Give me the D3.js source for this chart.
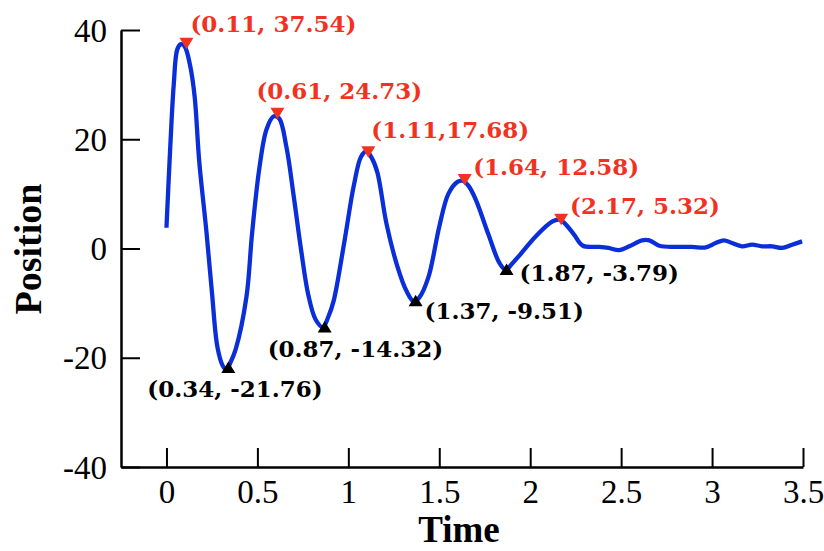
<!DOCTYPE html>
<html>
<head>
<meta charset="utf-8">
<script src="https://cdn.jsdelivr.net/npm/d3@7"></script>
<style>
  html, body { margin: 0; padding: 0; background: #fff; }
</style>
</head>
<body>
<div id="chart"></div>
<script>
const timeValues = [0.00, 0.02, 0.04, 0.06, 0.08, 0.10, 0.13, 0.155, 0.18, 0.22, 0.25, 0.28, 0.31, 0.33, 0.35,
  0.38, 0.44, 0.47, 0.51, 0.55, 0.59, 0.62, 0.66, 0.70, 0.74, 0.78, 0.82, 0.86, 0.89, 0.92, 0.98, 1.03, 1.07,
  1.10, 1.13, 1.16, 1.21, 1.27, 1.32, 1.36, 1.39, 1.44, 1.50, 1.55, 1.60, 1.63, 1.66, 1.70, 1.77, 1.83, 1.865,
  1.90, 1.94, 2.03, 2.12, 2.16, 2.19, 2.24, 2.29, 2.38, 2.43, 2.49, 2.545, 2.615, 2.655, 2.71, 2.80, 2.89,
  2.965, 3.02, 3.065, 3.11, 3.165, 3.22, 3.275, 3.33, 3.385, 3.44, 3.495];
const positionValues = [3.8, 18, 30, 36.5, 37.4, 37.0, 33.5, 27.8, 16, 3, -8, -18, -21.5, -22.2, -21,
  -18.5, -8.8, 2.5, 14.5, 21.8, 24.2, 23.8, 18.5, 9.5, -0.2, -8.5, -13, -14.4, -12.5, -9.5, 1.6, 11.5, 16.8,
  17.8, 16.5, 13.9, 4.5, -3.3, -7.8, -9.7, -9.0, -5.3, 4, 10, 12.2, 12.4, 11.5, 9, 2.6, -2.6, -3.9,
  -2.8, -1.3, 2.2, 4.9, 5.3, 4.6, 2.6, 0.5, 0.3, 0.1, -0.3, 0.4, 1.5, 1.5, 0.5, 0.3, 0.3,
  0.2, 1.0, 1.5, 1.0, 0.4, 0.7, 0.4, 0.4, 0.1, 0.7, 1.3];

// peaks (red) and troughs (black)
const peakTimes = [0.11, 0.61, 1.11, 1.64, 2.17];
const peakValues = [37.54, 24.73, 17.68, 12.58, 5.32];
const peakLabels = ["(0.11, 37.54)", "(0.61, 24.73)", "(1.11,17.68)", "(1.64, 12.58)", "(2.17, 5.32)"];
const troughTimes = [0.34, 0.87, 1.37, 1.87];
const troughValues = [-21.76, -14.32, -9.51, -3.79];
const troughLabels = ["(0.34, -21.76)", "(0.87, -14.32)", "(1.37, -9.51)", "(1.87, -3.79)"];

// label placement relative to marker (left, baseline)
const peakOffsets = [[4, -11], [-21, -14], [3, -14], [8.5, -5], [9, -5]];
const troughOffsets = [[-81, 30], [-57, 30], [9, 19], [13, 12]];

const xTicks = [0, 0.5, 1, 1.5, 2, 2.5, 3, 3.5];
const yTicks = [-40, -20, 0, 20, 40];

const W = 824, H = 551;
const plotLeft = 121, plotRight = 803, plotTop = 30, plotBottom = 467;
const red = "#f0321e";

const svg = d3.select("#chart").append("svg")
  .attr("width", W).attr("height", H)
  .style("display", "block");

const x = d3.scaleLinear().domain([-0.25, 3.5]).range([plotLeft, plotRight]);
const y = d3.scaleLinear().domain([-40, 40]).range([plotBottom, plotTop]);

// axes, ticks pointing inward
const gx = svg.append("g").attr("transform", `translate(0,${plotBottom})`)
  .call(d3.axisBottom(x).tickValues(xTicks).tickSizeInner(-19).tickSizeOuter(0)
    .tickFormat(d => String(d)));
const gy = svg.append("g").attr("transform", `translate(${plotLeft},0)`)
  .call(d3.axisLeft(y).tickValues(yTicks).tickSizeInner(-19).tickSizeOuter(0)
    .tickFormat(d => String(d)));

[gx, gy].forEach(g => {
  g.select(".domain").attr("stroke", "#000").attr("stroke-width", 2.5);
  g.selectAll(".tick line").attr("stroke", "#000").attr("stroke-width", 2);
  g.selectAll(".tick text")
    .attr("font-family", "'Liberation Serif', 'Times New Roman', serif")
    .attr("font-size", 33).attr("fill", "#000");
});
gx.selectAll(".tick text").attr("y", 36).attr("dy", 0);
gy.selectAll(".tick text").attr("x", -14).attr("dy", "0.34em");

// axis titles
svg.append("text")
  .attr("x", 459).attr("y", 542)
  .attr("text-anchor", "middle")
  .attr("font-family", "'Liberation Serif', 'Times New Roman', serif")
  .attr("font-weight", "bold").attr("font-size", 37)
  .text("Time");
svg.append("text")
  .attr("transform", "translate(41,249) rotate(-90)")
  .attr("text-anchor", "middle")
  .attr("font-family", "'Liberation Serif', 'Times New Roman', serif")
  .attr("font-weight", "bold").attr("font-size", 38)
  .text("Position");

// the curve
const pts = timeValues.map((t, i) => [t, positionValues[i]]);
const line = d3.line()
  .x(d => x(d[0])).y(d => y(d[1]))
  .curve(d3.curveCatmullRom.alpha(0.5));
svg.append("path")
  .datum(pts)
  .attr("d", line)
  .attr("fill", "none")
  .attr("stroke", "#0a2ed8")
  .attr("stroke-width", 4.3)
  .attr("stroke-linejoin", "round");

// triangle centred on its bounding box
const tri = (up) => {
  const w = 14, h = 11.5;
  const p = d3.path();
  if (up) { p.moveTo(0, -h / 2); p.lineTo(w / 2, h / 2); p.lineTo(-w / 2, h / 2); }
  else { p.moveTo(0, h / 2); p.lineTo(w / 2, -h / 2); p.lineTo(-w / 2, -h / 2); }
  p.closePath();
  return p.toString();
};

const peaks = peakTimes.map((t, i) => ({ t, v: peakValues[i], label: peakLabels[i], off: peakOffsets[i] }));
const troughs = troughTimes.map((t, i) => ({ t, v: troughValues[i], label: troughLabels[i], off: troughOffsets[i] }));

const drawMarks = (data, up, color) => {
  const g = svg.append("g");
  g.selectAll("path").data(data).enter().append("path")
    .attr("d", tri(up))
    .attr("transform", d => `translate(${x(d.t)},${y(d.v)})`)
    .attr("fill", color);
  g.selectAll("text").data(data).enter().append("text")
    .attr("x", d => x(d.t) + d.off[0])
    .attr("y", d => y(d.v) + d.off[1])
    .attr("font-family", "'DejaVu Serif', serif")
    .attr("font-weight", "bold").attr("font-size", 23)
    .attr("fill", color)
    .text(d => d.label);
};
drawMarks(peaks, false, red);
drawMarks(troughs, true, "#000");
</script>
</body>
</html>
